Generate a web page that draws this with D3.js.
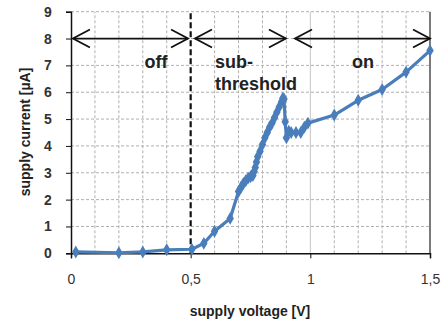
<!DOCTYPE html>
<html>
<head>
<meta charset="utf-8">
<script src="https://cdn.jsdelivr.net/npm/d3@7"></script>
<style>
  body { margin: 0; background: #fff; }
  svg { display: block; font-family: "Liberation Sans", Arial, sans-serif; }
</style>
</head>
<body>
<div id="chart"></div>
<script>
// measured supply voltage [V] and supply current [uA]
const voltage = [0.02, 0.2, 0.3, 0.4, 0.505, 0.555, 0.6, 0.665, 0.7, 0.71, 0.72, 0.73, 0.74, 0.75,
    0.76, 0.765, 0.77, 0.775, 0.78, 0.79, 0.8, 0.81, 0.82, 0.83, 0.84, 0.85, 0.86, 0.87, 0.88,
    0.885, 0.89, 0.895, 0.9, 0.91, 0.92, 0.94, 0.96, 0.975, 0.99, 1.1, 1.2, 1.3, 1.4, 1.5];
const current = [0.05, 0.02, 0.05, 0.13, 0.15, 0.37, 0.82, 1.3, 2.3, 2.45, 2.6, 2.7, 2.8, 2.85,
    2.9, 3.05, 3.2, 3.4, 3.6, 3.8, 4.05, 4.3, 4.5, 4.7, 4.85, 5.05, 5.25, 5.45, 5.65,
    5.78, 5.75, 4.9, 4.3, 4.55, 4.5, 4.5, 4.5, 4.7, 4.85, 5.15, 5.7, 6.1, 6.75, 7.55];

const xTicks = [0, 0.5, 1, 1.5];
const yTicks = [0, 1, 2, 3, 4, 5, 6, 7, 8, 9];

// operating regions (arrows at 8 uA)
const regionNames = ["off", "sub-", "on"];
const regionStart = [0.008, 0.518, 0.936];
const regionEnd = [0.489, 0.898, 1.5];
const regionLevel = 8;

const width = 448, height = 320;
const margin = {left: 71, right: 18, top: 11.7, bottom: 66.7};

const svg = d3.select('#chart').append('svg')
    .attr('width', width)
    .attr('height', height);

const x = d3.scaleLinear().domain([0, 1.5]).range([margin.left, width - margin.right]);
const y = d3.scaleLinear().domain([0, 9]).range([height - margin.bottom, margin.top]);

// grid
let grid = svg.append('g');
grid.selectAll('line.v').data(d3.range(1, 15).map(i => i / 10).filter(v => v !== 0.5))
    .join('line')
    .attr('x1', d => x(d)).attr('x2', d => x(d))
    .attr('y1', y(0)).attr('y2', y(9))
    .attr('stroke', d => d === 1 ? '#c4c4c4' : '#b0b0b0')
    .attr('stroke-width', 1)
    .attr('stroke-dasharray', d => d === 1 ? null : '3,2');
grid.selectAll('line.h').data(yTicks.slice(1))
    .join('line')
    .attr('x1', x(0)).attr('x2', x(1.5))
    .attr('y1', d => y(d)).attr('y2', d => y(d))
    .attr('stroke', '#b0b0b0')
    .attr('stroke-width', 1)
    .attr('stroke-dasharray', '3,2');

// right border
svg.append('line')
    .attr('x1', x(1.5)).attr('x2', x(1.5))
    .attr('y1', y(0)).attr('y2', y(9))
    .attr('stroke', '#222').attr('stroke-width', 1.2);

// axes
const xAxis = d3.axisBottom(x).tickValues(xTicks).tickSize(5).tickPadding(16)
    .tickFormat(d => String(d).replace('.', ','));
const gx = svg.append('g').attr('transform', `translate(0,${y(0)})`).call(xAxis);
gx.select('.domain').attr('stroke', '#111').attr('stroke-width', 1.5);
gx.selectAll('.tick line').attr('stroke', '#111');
gx.selectAll('text').attr('font-size', 14).attr('fill', '#333');

const yAxis = d3.axisLeft(y).tickValues(yTicks).tickSize(5).tickPadding(14);
const gy = svg.append('g').attr('transform', `translate(${x(0)},0)`).call(yAxis);
gy.select('.domain').attr('stroke', '#111').attr('stroke-width', 1.5);
gy.selectAll('.tick line').attr('stroke', '#111');
gy.selectAll('text').attr('font-size', 14).attr('font-weight', 'bold').attr('fill', '#333')
    .attr('text-anchor', 'middle').attr('dx', -4);

// region boundary at 0.5 V
svg.append('line')
    .attr('x1', x(0.5)).attr('x2', x(0.5))
    .attr('y1', y(0)).attr('y2', y(9))
    .attr('stroke', '#111').attr('stroke-width', 2.2)
    .attr('stroke-dasharray', '6,3');

// double arrows
let arrows = svg.append('g').attr('stroke', '#111').attr('stroke-width', 1.8).attr('fill', 'none');
regionStart.forEach((s, i) => {
    let x0 = x(s), x1 = x(regionEnd[i]), yy = y(regionLevel);
    arrows.append('line').attr('x1', x0).attr('x2', x1).attr('y1', yy).attr('y2', yy);
    arrows.append('path').attr('d', `M${x0 + 17},${yy - 9}L${x0},${yy}L${x0 + 17},${yy + 9}`);
    arrows.append('path').attr('d', `M${x1 - 17},${yy - 9}L${x1},${yy}L${x1 - 17},${yy + 9}`);
});

// region labels
let labels = svg.append('g').attr('font-size', 18).attr('font-weight', 'bold').attr('fill', '#222');
labels.append('text').attr('x', 156).attr('y', 68).attr('text-anchor', 'middle').text(regionNames[0]);
labels.append('text').attr('x', 215).attr('y', 68).text(regionNames[1]);
labels.append('text').attr('x', 215).attr('y', 90).text('threshold');
labels.append('text').attr('x', 363).attr('y', 68).attr('text-anchor', 'middle').text(regionNames[2]);

// data line
const pts = voltage.map((v, i) => [v, current[i]]);
svg.append('path')
    .datum(pts)
    .attr('fill', 'none')
    .attr('stroke', '#4a7ebb')
    .attr('stroke-width', 3.2)
    .attr('stroke-linejoin', 'round')
    .attr('d', d3.line().x(d => x(d[0])).y(d => y(d[1])));

svg.append('g').selectAll('path').data(pts).join('path')
    .attr('d', d3.symbol(d3.symbolDiamond, 48))
    .attr('transform', d => `translate(${x(d[0])},${y(d[1])})`)
    .attr('fill', '#4a7ebb');

// axis titles
svg.append('text')
    .attr('x', 250).attr('y', 316)
    .attr('text-anchor', 'middle')
    .attr('font-size', 14).attr('font-weight', 'bold').attr('fill', '#222')
    .text('supply voltage [V]');
svg.append('text')
    .attr('transform', 'translate(30,132) rotate(-90)')
    .attr('text-anchor', 'middle')
    .attr('font-size', 14).attr('font-weight', 'bold').attr('fill', '#222')
    .text('supply current [µA]');
</script>
</body>
</html>
